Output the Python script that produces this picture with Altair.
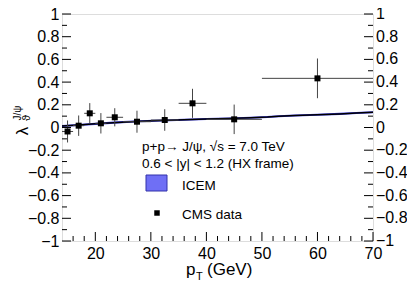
import altair as alt
import pandas as pd

# CMS data
cms_pt = [15, 17, 19, 21, 23.5, 27.5, 32.5, 37.5, 45, 60]
cms_lo = [14, 16, 18, 20, 22, 25, 30, 35, 40, 50]
cms_hi = [16, 18, 20, 22, 25, 30, 35, 40, 50, 70]
cms_val = [-0.035, 0.016, 0.125, 0.037, 0.09, 0.051, 0.066, 0.213, 0.072, 0.433]
cms_err = [0.097, 0.09, 0.09, 0.09, 0.08, 0.097, 0.095, 0.128, 0.13, 0.175]

# ICEM band
icem_pt = [14, 17, 20, 24, 28, 32, 36, 40, 44, 48, 51, 53, 56, 60, 64, 67, 70]
icem_val = [0.013, 0.022, 0.032, 0.045, 0.055, 0.062, 0.068, 0.074, 0.08, 0.086, 0.092, 0.1, 0.106, 0.112, 0.12, 0.127, 0.134]
icem_hw = [0.009] * len(icem_pt)

# ticks
y_major = [-1, -0.8, -0.6, -0.4, -0.2, 0, 0.2, 0.4, 0.6, 0.8, 1]
y_minor = [-0.9, -0.7, -0.5, -0.3, -0.1, 0.1, 0.3, 0.5, 0.7, 0.9]
x_major = [20, 30, 40, 50, 60, 70]
x_minor = [16, 18, 22, 24, 26, 28, 32, 34, 36, 38, 42, 44, 46, 48, 52, 54, 56, 58, 62, 64, 66, 68]

W, H = 311, 227
FONT = "Liberation Sans"

xs = alt.Scale(domain=[14, 70], nice=False, zero=False)
ys = alt.Scale(domain=[-1, 1], nice=False, zero=False)

cms = pd.DataFrame({"pt": cms_pt, "lo": cms_lo, "hi": cms_hi, "v": cms_val,
                    "vlo": [v - e for v, e in zip(cms_val, cms_err)],
                    "vhi": [v + e for v, e in zip(cms_val, cms_err)]})
icem = pd.DataFrame({"pt": icem_pt, "v": icem_val,
                     "lo": [v - h for v, h in zip(icem_val, icem_hw)],
                     "hi": [v + h for v, h in zip(icem_val, icem_hw)]})

xaxis = alt.Axis(values=x_major, ticks=False, grid=False, labelFontSize=16, labelFont=FONT,
                 labelColor="black", labelPadding=4, title=None, domain=False,
                 labelFlush=False, labelOverlap=False)
yaxis = alt.Axis(values=y_major, ticks=False, grid=False, labelFontSize=16, labelFont=FONT,
                 labelColor="black", labelPadding=3, title=None, domain=False,
                 labelExpr="format(datum.value, '.1~f')", labelFlush=False, labelOverlap=False)

band = alt.Chart(icem).mark_area(color="#2222dd", opacity=0.9).encode(
    x=alt.X("pt:Q", scale=xs, axis=xaxis),
    y=alt.Y("lo:Q", scale=ys, axis=yaxis),
    y2="hi:Q")
line = alt.Chart(icem).mark_line(color="black", strokeWidth=1.5).encode(
    x=alt.X("pt:Q", scale=xs, axis=xaxis), y=alt.Y("v:Q", scale=ys, axis=yaxis))

evert = alt.Chart(cms).mark_rule(color="#444444", strokeWidth=1).encode(
    x=alt.X("pt:Q", scale=xs, axis=xaxis), y=alt.Y("vlo:Q", scale=ys, axis=yaxis), y2="vhi:Q")
ehor = alt.Chart(cms).mark_rule(color="#444444", strokeWidth=1).encode(
    x=alt.X("lo:Q", scale=xs, axis=xaxis), x2="hi:Q", y=alt.Y("v:Q", scale=ys, axis=yaxis))
pts = alt.Chart(cms).mark_square(color="black", size=36, opacity=1).encode(
    x=alt.X("pt:Q", scale=xs, axis=xaxis), y=alt.Y("v:Q", scale=ys, axis=yaxis))

ymaj = pd.DataFrame({"y": y_major})
ymin = pd.DataFrame({"y": y_minor})
xmaj = pd.DataFrame({"x": x_major})
xmin = pd.DataFrame({"x": x_minor})

def yt(df, x0, x1):
    return alt.Chart(df).mark_rule(color="black", strokeWidth=1).encode(
        y=alt.Y("y:Q", scale=ys, axis=yaxis), x=alt.value(x0), x2=alt.value(x1))

def xt(df, y0, y1):
    return alt.Chart(df).mark_rule(color="black", strokeWidth=1).encode(
        x=alt.X("x:Q", scale=xs, axis=xaxis), y=alt.value(y0), y2=alt.value(y1))

ticks = [yt(ymaj, 0, 9), yt(ymin, 0, 5), yt(ymaj, W - 9, W), yt(ymin, W - 5, W),
         xt(xmaj, H, H - 9), xt(xmin, H, H - 5)]

rlab = alt.Chart(ymaj).mark_text(align="left", baseline="middle", fontSize=16, font=FONT,
                                 color="black", dx=3).encode(
    y=alt.Y("y:Q", scale=ys, axis=yaxis), x=alt.value(W),
    text=alt.Text("y:Q", format=".1~f"))

def txt(s, x, y, size=13, align="left", angle=0):
    return alt.Chart(pd.DataFrame({"t": [s]})).mark_text(
        align=align, baseline="alphabetic", fontSize=size, font=FONT, color="black",
        angle=angle).encode(x=alt.value(x), y=alt.value(y), text="t:N")

texts = [
    txt("p+p\u2192 J/\u03c8, \u221as = 7.0 TeV", 80, 137, size=13.5),
    txt("0.6 < |y| < 1.2 (HX frame)", 80, 154, size=13.5),
    txt("ICEM", 120, 176, size=13.5),
    txt("CMS data", 120, 205, size=13.5),
    txt("p", 124, 261, size=17),
    txt("T", 134, 266, size=11),
    txt("(GeV)", 145, 261, size=17),
    txt("\u03bb", -34, 117, size=17, align="center", angle=270),
    txt("\u03d1", -32, 104, size=11, align="center", angle=270),
    txt("J/\u03c8", -41, 99, size=10, align="center", angle=270),
]

legbox = alt.Chart(pd.DataFrame({"a": [0]})).mark_rect(
    fill="#6f6ff5", stroke="#3333aa", strokeWidth=1).encode(
    x=alt.value(84), x2=alt.value(105), y=alt.value(161), y2=alt.value(177))
legpt = alt.Chart(pd.DataFrame({"a": [0]})).mark_square(color="black", size=30, opacity=1).encode(
    x=alt.value(95), y=alt.value(199))

chart = alt.layer(band, line, evert, ehor, pts, *ticks, rlab, legbox, legpt, *texts).properties(
    width=W, height=H,
    autosize=alt.AutoSizeParams(type="none"),
    padding={"left": 54, "top": 6, "right": 34, "bottom": 42},
).configure_view(stroke="black", strokeWidth=1.2).configure_axis(
    labelOverlap=False).configure(background="white")

chart.save("out.html", embed_options={"renderer": "svg", "actions": False})
